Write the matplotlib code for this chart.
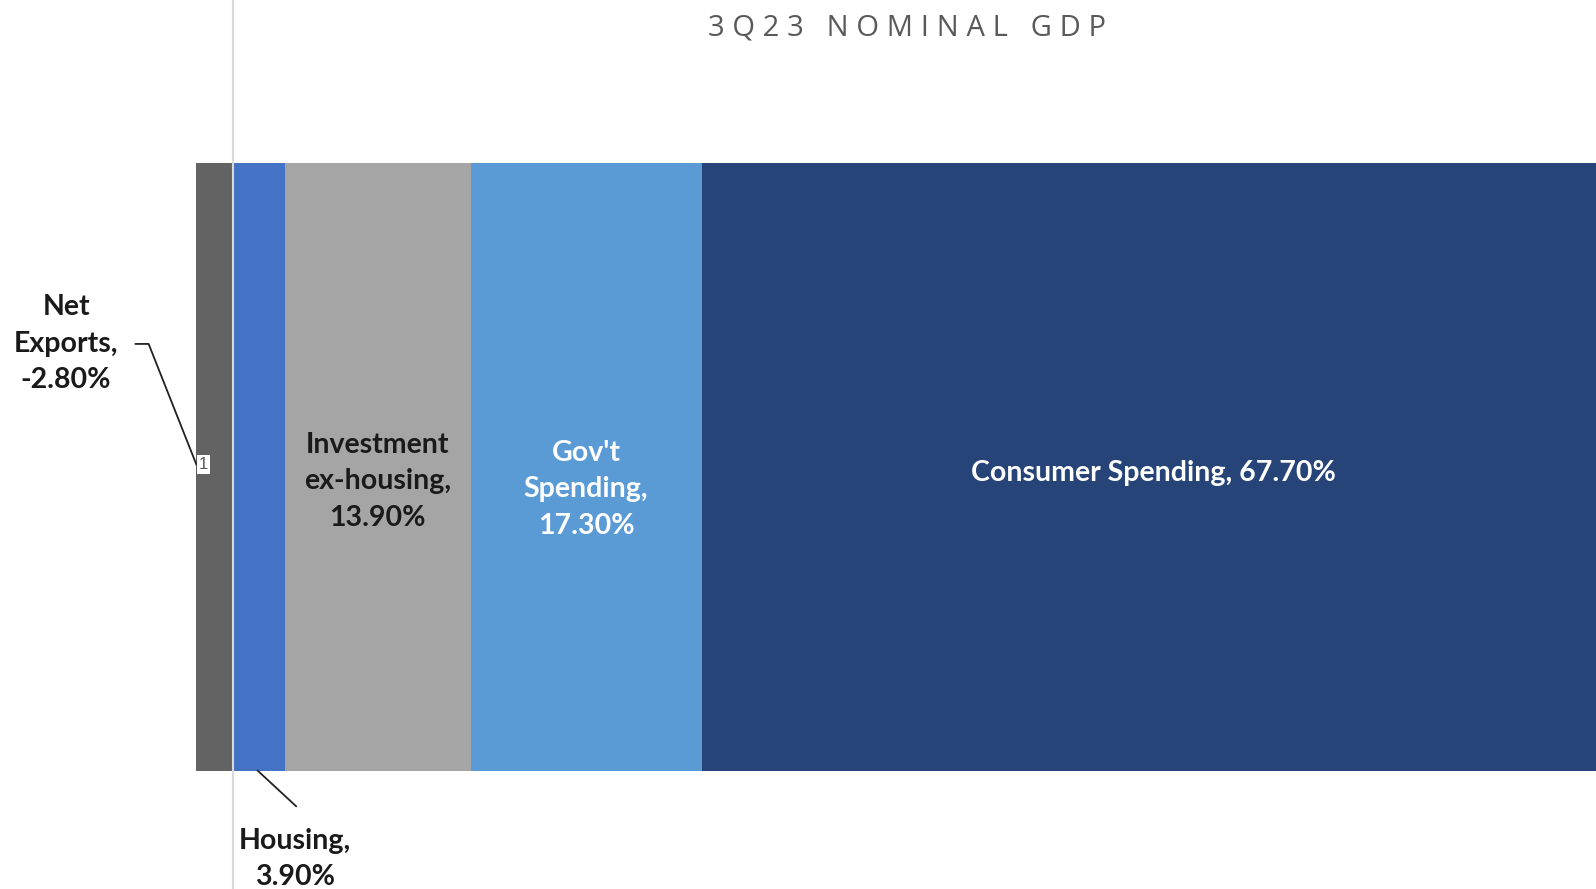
import matplotlib
matplotlib.use("Agg")
import matplotlib.pyplot as plt

# ---- data ----
categories = ["Net\nExports", "Housing", "Investment\nex-housing", "Gov't\nSpending", "Consumer Spending"]
values = [-2.8, 3.9, 13.9, 17.3, 67.7]
colors = ["#636363", "#4472C4", "#A5A5A5", "#5B9BD5", "#264478"]
title = "3Q23 NOMINAL GDP"

W, H = 1596, 889
fig = plt.figure(figsize=(W / 100, H / 100), dpi=100)
ax = fig.add_axes([0, 0, 1, 1])
ax.set_xlim(-17.45, 102.1)
ax.set_ylim(-0.695, 0.768)
ax.axis("off")

FONT = ["Lato", "DejaVu Sans"]

# stacked bars
lefts = []
pos = 0.0
for v in values:
    if v < 0:
        lefts.append(0.0)
    else:
        lefts.append(pos)
        pos += v
for cat, v, l, c in zip(categories, values, lefts, colors):
    ax.barh(0, v, left=l, height=1.0, color=c, edgecolor="none", zorder=2)

# zero axis line
ax.axvline(0, color="#D9D9D9", lw=1.5, zorder=3)

def lab(cat, v):
    sep = " " if cat == "Consumer Spending" else "\n"
    return f"{cat},{sep}{v:.2f}%"

fs = 20.5
LS = 1.5
# in-bar labels
inbar = {2: ("#1a1a1a", -0.024), 3: ("white", -0.037), 4: ("white", -0.01)}
for i, (tc, dy) in inbar.items():
    cx = lefts[i] + values[i] / 2
    ax.text(cx, dy, lab(categories[i], values[i]), ha="center", va="center",
            color=tc, fontsize=fs, fontweight="bold", family=FONT,
            linespacing=LS, zorder=4)

lead = dict(arrowstyle="-", color="#222222", lw=1.3, shrinkA=0, shrinkB=0)

# Net exports: outside label with elbow leader
ax.text(-12.5, 0.202, lab(categories[0], values[0]), ha="center", va="center",
        fontsize=fs, fontweight="bold", family=FONT, color="#1a1a1a",
        linespacing=LS, zorder=5)
ax.annotate("", xy=(values[0] + 0.07, 0.003), xytext=(-7.31, 0.202),
            arrowprops=dict(lead, connectionstyle="angle,angleA=0,angleB=111.6,rad=0"),
            zorder=5)
ax.text(values[0] + 0.6, 0.003, "1", ha="center", va="center", fontsize=12,
        color="#595959", family=["Liberation Sans Narrow", "Liberation Sans", "DejaVu Sans"],
        zorder=6, bbox=dict(boxstyle="square,pad=0.12", fc="white", ec="none"))

# Housing: below label with leader
ax.text(4.64, -0.646, lab(categories[1], values[1]), ha="center", va="center",
        fontsize=fs, fontweight="bold", family=FONT, color="#1a1a1a",
        linespacing=LS, zorder=5)
ax.annotate("", xy=(lefts[1] + values[1] / 2 - 0.11, -0.5), xytext=(4.74, -0.559),
            arrowprops=lead, zorder=5)

# title
spaced = "\u2009\u200a".join(title).replace("\u2009\u200a \u2009\u200a", "   ")
fig.text(907 / W, 1 - 28 / H, spaced, ha="center", va="center", fontsize=21,
         color="#595959", family=["Open Sans", "DejaVu Sans"])

fig.savefig("out.png", dpi=100)
